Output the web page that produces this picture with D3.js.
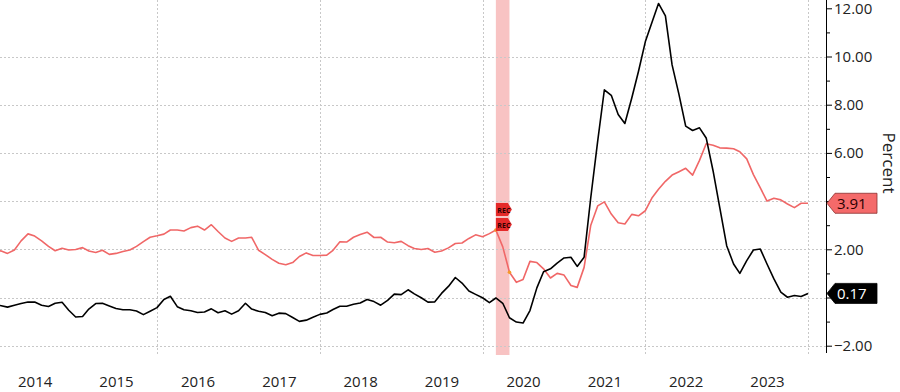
<!DOCTYPE html>
<html><head><meta charset="utf-8">
<script src="https://cdn.jsdelivr.net/npm/d3@7/dist/d3.min.js"></script>
<style>
html,body{margin:0;padding:0;background:#fff;}
svg{display:block;font-family:"Open Sans","Noto Sans",sans-serif;}
</style></head>
<body><svg id="c" width="900" height="392"></svg>
<script>
// ---- data (monthly, Jan 2014 .. Jan 2024) ----
const startMonth = "2014-01";
const redSeries = [
  1.95,1.93,1.83,1.97,2.35,2.64,2.55,2.35,2.12,1.94,2.04,1.97,
  1.99,2.07,1.93,1.87,1.96,1.79,1.83,1.91,1.97,2.12,2.32,2.50,
  2.56,2.63,2.80,2.80,2.76,2.90,2.96,2.80,3.02,2.74,2.47,2.33,
  2.47,2.47,2.50,1.96,1.78,1.58,1.42,1.36,1.45,1.70,1.85,1.74,
  1.74,1.76,1.96,2.31,2.30,2.50,2.61,2.71,2.49,2.50,2.30,2.27,
  2.33,2.15,2.03,1.99,2.03,1.88,1.93,2.06,2.24,2.26,2.45,2.60,
  2.52,2.65,2.80,2.10,1.05,0.63,0.75,1.50,1.45,1.19,0.81,1.00,
  0.93,0.50,0.42,1.25,3.00,3.80,3.97,3.46,3.10,3.05,3.45,3.39,
  3.60,4.15,4.49,4.82,5.08,5.22,5.36,5.08,5.69,6.38,6.32,6.21,
  6.20,6.17,6.05,5.75,5.10,4.55,4.00,4.12,4.05,3.88,3.73,3.91,
  3.91
];
const blackSeries = [
  -0.30,-0.34,-0.40,-0.32,-0.25,-0.19,-0.19,-0.32,-0.37,-0.24,-0.20,-0.53,
  -0.81,-0.79,-0.48,-0.25,-0.24,-0.35,-0.46,-0.51,-0.51,-0.56,-0.71,-0.57,
  -0.42,-0.08,0.05,-0.38,-0.51,-0.55,-0.62,-0.60,-0.47,-0.63,-0.55,-0.69,
  -0.55,-0.24,-0.48,-0.57,-0.62,-0.76,-0.65,-0.67,-0.83,-0.99,-0.94,-0.82,
  -0.70,-0.64,-0.50,-0.36,-0.36,-0.28,-0.23,-0.08,-0.17,-0.32,-0.12,0.14,
  0.12,0.32,0.15,-0.01,-0.19,-0.18,0.17,0.46,0.83,0.60,0.27,0.13,
  -0.01,-0.21,-0.02,-0.24,-0.84,-1.02,-1.06,-0.54,0.40,1.07,1.19,1.43,
  1.64,1.67,1.29,1.67,4.15,6.49,8.62,8.39,7.59,7.22,8.28,9.38,
  10.62,11.45,12.20,11.69,9.65,8.42,7.11,6.93,7.04,6.62,5.25,3.73,
  2.15,1.39,1.00,1.53,1.97,2.01,1.39,0.77,0.22,0.01,0.08,0.04,
  0.17
];
const recession = ["2020-03-01","2020-05-01"];
const yearLabels = [2014,2015,2016,2017,2018,2019,2020,2021,2022,2023];
const majorTicks = [-2,0,2,4,6,8,10,12];
const hiddenTickLabels = [0,4];   // covered by the last-value tags
const minorTicks = [-1,1,3,5,7,9,11];
const gridYears = [2016,2018,2020,2022,2024];
const lastRed = "3.91", lastBlack = "0.17";
const axisTitle = "Percent";

// ---- scales ----
const svg = d3.select("#c");
const parse = d3.timeParse("%Y-%m");
const t0 = parse(startMonth);
const dates = redSeries.map((_, i) => d3.timeMonth.offset(t0, i));
const x = d3.scaleTime().domain([new Date(2016,0,1), new Date(2024,0,1)]).range([157, 808]);
const y = d3.scaleLinear().domain([-2, 12]).range([345.7, 8.3]);
const axisX = 826;

// clip
svg.append("defs").append("clipPath").attr("id","plot")
  .append("rect").attr("x",0).attr("y",0).attr("width",axisX).attr("height",360);

// recession band
const r0 = x(new Date(recession[0]+"T00:00")), r1 = x(new Date(recession[1]+"T00:00"));
svg.append("rect").attr("x", r0).attr("y", 0).attr("width", r1 - r0)
  .attr("height", 355).attr("fill", "#f7b9b9").attr("opacity", 0.85);

// grid
const grid = svg.append("g").attr("stroke", "#c8c8c8").attr("stroke-dasharray", "2,2").attr("stroke-width", 1);
grid.selectAll("line.h").data(majorTicks.filter(v => v < 12)).join("line")
  .attr("x1", 0).attr("x2", axisX).attr("y1", d => Math.round(y(d)) + 0.5).attr("y2", d => Math.round(y(d)) + 0.5);
grid.selectAll("line.v").data(gridYears).join("line")
  .attr("x1", d => Math.round(x(new Date(d,0,1))) + 0.5).attr("x2", d => Math.round(x(new Date(d,0,1))) + 0.5)
  .attr("y1", 0).attr("y2", 355);

// lines
const line = vals => d3.line().x((d, i) => x(dates[i])).y(d => y(d))(vals);
const lines = svg.append("g").attr("clip-path", "url(#plot)");
lines.append("path").attr("d", line(redSeries)).attr("fill", "none")
  .attr("stroke", "#f06767").attr("stroke-width", 1.6).attr("stroke-linejoin", "round");
lines.append("path").attr("d", line(blackSeries)).attr("fill", "none")
  .attr("stroke", "#000").attr("stroke-width", 1.6).attr("stroke-linejoin", "round");

// small markers at recession edges on red line
const recIdx = recession.map(r => dates.findIndex(d => +d === +new Date(r+"T00:00")));
svg.selectAll("circle.rm").data(recIdx).join("circle")
  .attr("cx", i => x(dates[i])).attr("cy", i => y(redSeries[i])).attr("r", 1.8).attr("fill", "#f59a2a");

// REC tags
[203, 218].forEach(ty => {
  const g = svg.append("g").attr("transform", `translate(${r0},${ty})`);
  g.append("path").attr("d", "M0,0 H12 L16,6.5 L12,13 H0 Z").attr("fill", "#e52a2a");
  g.append("text").attr("x", 1.5).attr("y", 9.5).attr("font-size", 7).attr("font-weight", "bold")
    .attr("fill", "#300").text("REC");
});

// right axis
const axG = svg.append("g").attr("transform", `translate(${axisX},0)`);
axG.call(d3.axisRight(y).tickValues(majorTicks).tickSize(6).tickPadding(2)
  .tickFormat(d => hiddenTickLabels.includes(d) ? "" : d3.format(".2f")(d)));
axG.select(".domain").attr("d", "M0.5,0 V353").attr("stroke", "#000");
axG.selectAll(".tick line").attr("stroke", "#000");
axG.selectAll(".tick text").attr("font-size", 15).attr("fill", "#222")
  .attr("font-family", "'Open Sans','Noto Sans',sans-serif");
const axMinor = svg.append("g").attr("transform", `translate(${axisX},0)`);
axMinor.call(d3.axisRight(y).tickValues(minorTicks).tickSize(4).tickFormat(""));
axMinor.select(".domain").remove();
axMinor.selectAll(".tick line").attr("stroke", "#000");

svg.append("text").attr("transform", "translate(883,163) rotate(90)")
  .attr("text-anchor", "middle").attr("font-size", 17).attr("fill", "#222").text(axisTitle);

// value tags
function tag(val, label, fill, textFill, stroke) {
  const cy = y(+val);
  const g = svg.append("g").attr("transform", `translate(${axisX + 1},${cy})`);
  g.append("path").attr("d", "M0,0 L8,-10 H50 V10 H8 Z").attr("fill", fill).attr("stroke", stroke).attr("stroke-width", 0.8);
  g.append("text").attr("x", 10).attr("y", 5.5).attr("font-size", 15).attr("fill", textFill).text(label);
}
tag(lastRed, lastRed, "#f46a6a", "#2a0000", "#8a3030");
tag(lastBlack, lastBlack, "#000", "#fff", "#000");

// x axis labels (mid-year)
const xa = svg.append("g").attr("transform", "translate(0,372)");
xa.call(d3.axisBottom(x).tickValues(yearLabels.map(yv => new Date(yv, 6, 1)))
  .tickSize(0).tickPadding(4).tickFormat(d3.timeFormat("%Y")));
xa.select(".domain").remove();
xa.selectAll("text").attr("font-size", 15).attr("fill", "#222")
  .attr("font-family", "'Open Sans','Noto Sans',sans-serif");
</script></body></html>
